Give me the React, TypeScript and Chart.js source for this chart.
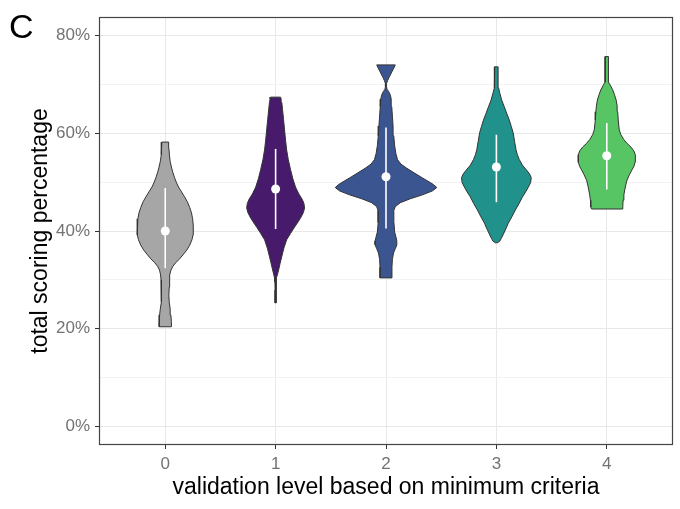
import React, { useEffect, useRef } from 'react';
import { Chart, registerables } from 'chart.js';

Chart.register(...registerables);

// ---- data ----
const categories = [0, 1, 2, 3, 4];
const yTickValues = [0, 10, 20, 30, 40, 50, 60, 70, 80];
const yMajorTicks = [0, 20, 40, 60, 80];

// violin outlines: score levels (%) and half-widths (in category units)
const level0Values = [20.4, 21.5, 22.8, 24.0, 25.5, 26.9, 28.5, 30.0, 31.0, 32.0, 32.8, 33.5, 34.3, 35.1, 36.1, 37.1, 38.2, 39.2, 40.2, 41.2, 42.5, 43.7, 44.8, 46.0, 47.0, 48.0, 49.0, 50.0, 50.9, 51.9, 52.9, 54.2, 55.6, 57.0, 58.2];
const level0HalfWidths = [0.054, 0.056, 0.051, 0.045, 0.036, 0.033, 0.036, 0.038, 0.042, 0.052, 0.07, 0.095, 0.13, 0.16, 0.195, 0.222, 0.242, 0.252, 0.255, 0.253, 0.248, 0.238, 0.222, 0.2, 0.175, 0.148, 0.12, 0.1, 0.085, 0.07, 0.058, 0.045, 0.038, 0.033, 0.031];

const level1Values = [25.3, 27.9, 29.5, 30.4, 31.2, 32.0, 33.3, 34.7, 36.5, 38.2, 39.5, 40.8, 41.9, 42.9, 43.8, 44.7, 45.6, 46.4, 47.6, 49.0, 50.8, 52.6, 54.6, 56.6, 58.6, 60.7, 62.8, 64.8, 66.3, 67.0, 67.4];
const level1HalfWidths = [0.005, 0.005, 0.006, 0.01, 0.018, 0.027, 0.04, 0.055, 0.075, 0.1, 0.135, 0.172, 0.205, 0.232, 0.252, 0.262, 0.257, 0.243, 0.21, 0.18, 0.155, 0.135, 0.115, 0.1, 0.09, 0.081, 0.072, 0.063, 0.056, 0.05, 0.045];

const level2Values = [30.4, 32.6, 34.2, 35.5, 36.4, 37.2, 38.0, 38.8, 39.8, 41.7, 43.0, 44.2, 45.0, 45.8, 46.6, 47.4, 48.2, 48.9, 49.5, 50.2, 51.0, 51.9, 52.9, 53.7, 54.6, 55.8, 57.5, 59.5, 61.5, 63.5, 65.5, 67.0, 67.8, 68.5, 69.0, 69.5, 70.2, 70.8, 71.4, 72.6, 73.4, 74.0];
const level2HalfWidths = [0.054, 0.054, 0.058, 0.068, 0.085, 0.099, 0.098, 0.09, 0.078, 0.072, 0.07, 0.072, 0.085, 0.13, 0.22, 0.33, 0.42, 0.46, 0.43, 0.38, 0.32, 0.255, 0.185, 0.135, 0.105, 0.09, 0.078, 0.07, 0.064, 0.058, 0.052, 0.047, 0.04, 0.025, 0.01, 0.005, 0.005, 0.015, 0.027, 0.054, 0.072, 0.084];

const level3Values = [37.6, 37.9, 38.5, 39.2, 40.4, 41.6, 42.9, 44.3, 45.6, 47.0, 48.0, 49.0, 49.9, 50.9, 51.7, 52.5, 53.5, 54.6, 55.6, 56.6, 58.3, 60.1, 61.4, 62.7, 64.0, 65.4, 66.8, 68.3, 69.3, 70.3, 73.6];
const level3HalfWidths = [0.01, 0.03, 0.045, 0.06, 0.085, 0.108, 0.14, 0.172, 0.205, 0.237, 0.265, 0.29, 0.31, 0.316, 0.3, 0.272, 0.235, 0.208, 0.19, 0.178, 0.165, 0.152, 0.135, 0.117, 0.095, 0.072, 0.048, 0.03, 0.02, 0.016, 0.015];

const level4Values = [44.5, 44.9, 46.3, 47.4, 48.4, 49.4, 50.4, 51.5, 52.5, 53.3, 54.1, 55.0, 55.6, 56.4, 57.2, 57.9, 58.7, 59.7, 60.7, 62.7, 64.4, 65.6, 66.8, 67.9, 68.9, 69.9, 70.5, 75.7];
const level4HalfWidths = [0.138, 0.145, 0.148, 0.155, 0.163, 0.172, 0.183, 0.205, 0.228, 0.247, 0.256, 0.26, 0.258, 0.245, 0.218, 0.185, 0.155, 0.128, 0.113, 0.104, 0.099, 0.094, 0.085, 0.07, 0.054, 0.03, 0.015, 0.015];

// summary (mean and spread) per level
const summaryMean = [40.0, 48.6, 51.1, 53.1, 55.4];
const summaryLow = [32.4, 40.4, 40.5, 45.9, 48.5];
const summaryHigh = [48.8, 56.8, 61.2, 59.7, 62.1];

const fillColors = ['#a6a6a6', '#471a6b', '#3b5590', '#21928b', '#57c564'];

const FONT = "'Liberation Sans', Arial, sans-serif";

function violinOutline(center: number, values: number[], hw: number[]) {
  const right = values.map((v, i) => ({ x: center + hw[i], y: v }));
  const left = values.map((v, i) => ({ x: center - hw[i], y: v })).reverse();
  return [...right, ...left, right[0]];
}

export default function App() {
  const ref = useRef<HTMLCanvasElement | null>(null);

  useEffect(() => {
    const canvas = ref.current;
    if (!canvas) return;

    const violinSets = [
      [level0Values, level0HalfWidths],
      [level1Values, level1HalfWidths],
      [level2Values, level2HalfWidths],
      [level3Values, level3HalfWidths],
      [level4Values, level4HalfWidths],
    ];

    const datasets: any[] = [];
    datasets.push({
      data: summaryMean.map((m, i) => ({ x: categories[i], y: m })),
      showLine: false,
      pointRadius: 4.5,
      pointBackgroundColor: '#ffffff',
      pointBorderWidth: 0,
      order: 0,
    });
    categories.forEach((c, i) => {
      datasets.push({
        data: [{ x: c, y: summaryLow[i] }, { x: c, y: summaryHigh[i] }],
        borderColor: '#ffffff',
        borderWidth: 1.6,
        pointRadius: 0,
        fill: false,
        order: 1,
      });
    });
    categories.forEach((c, i) => {
      const [vals, hws] = violinSets[i];
      datasets.push({
        data: violinOutline(c, vals, hws),
        borderColor: '#333333',
        borderWidth: 1,
        backgroundColor: fillColors[i],
        fill: 'shape',
        pointRadius: 0,
        tension: 0,
        order: 2,
      });
    });

    const panelPlugin = {
      id: 'panelDecor',
      afterDraw(chart: any) {
        const { ctx, chartArea } = chart;
        ctx.save();
        ctx.strokeStyle = '#444444';
        ctx.lineWidth = 1.2;
        ctx.strokeRect(chartArea.left + 0.5, chartArea.top + 0.5, chartArea.right - chartArea.left - 1, chartArea.bottom - chartArea.top - 1);
        ctx.fillStyle = '#000000';
        ctx.font = `34px ${FONT}`;
        ctx.textBaseline = 'alphabetic';
        ctx.textAlign = 'left';
        ctx.fillText('C', 9, 38);
        ctx.restore();
      },
    };

    const chart = new Chart(canvas, {
      type: 'line',
      data: { datasets },
      options: {
        animation: false,
        responsive: false,
        devicePixelRatio: 1,
        layout: { padding: { top: 17, right: 7, left: 0, bottom: 0 } },
        plugins: { legend: { display: false }, tooltip: { enabled: false } },
        scales: {
          x: {
            type: 'linear',
            min: -0.6,
            max: 4.6,
            afterBuildTicks: (scale: any) => {
              scale.ticks = categories.map((v) => ({ value: v }));
            },
            afterFit: (scale: any) => {
              scale.height = 64;
            },
            ticks: {
              autoSkip: false,
              maxRotation: 0,
              padding: 5,
              color: '#737373',
              font: { family: FONT, size: 17 },
              callback: (v: any) => String(v),
            },
            grid: {
              color: '#e8e8e8',
              lineWidth: 1,
              drawTicks: true,
              tickLength: 4,
              tickColor: '#333333',
              tickWidth: 1,
            },
            border: { display: false },
            title: {
              display: true,
              text: 'validation level based on minimum criteria',
              color: '#000000',
              font: { family: FONT, size: 23 },
              padding: { top: 0, bottom: 8 },
            },
          },
          y: {
            type: 'linear',
            min: -3.8,
            max: 83.8,
            afterBuildTicks: (scale: any) => {
              scale.ticks = yTickValues.map((v) => ({ value: v }));
            },
            afterFit: (scale: any) => {
              scale.width = 99;
            },
            ticks: {
              autoSkip: false,
              padding: 5,
              color: '#737373',
              font: { family: FONT, size: 17 },
              callback: (v: any) => (yMajorTicks.includes(v) ? `${v}%` : ''),
            },
            grid: {
              color: (ctx: any) => (yMajorTicks.includes(ctx.tick?.value) ? '#e8e8e8' : '#f3f3f3'),
              lineWidth: 1,
              drawTicks: true,
              tickLength: 4,
              tickColor: (ctx: any) => (yMajorTicks.includes(ctx.tick?.value) ? '#333333' : 'rgba(0,0,0,0)'),
              tickWidth: 1,
            },
            border: { display: false },
            title: {
              display: true,
              text: 'total scoring percentage',
              color: '#000000',
              font: { family: FONT, size: 23 },
              padding: { top: 27, bottom: 0 },
            },
          },
        },
      },
      plugins: [panelPlugin],
    } as any);

    return () => chart.destroy();
  }, []);

  return (
    <div style={{ position: 'absolute', left: 0, top: 0, width: 680, height: 509, background: '#ffffff' }}>
      <canvas ref={ref} width={680} height={509} style={{ display: 'block' }} />
    </div>
  );
}
